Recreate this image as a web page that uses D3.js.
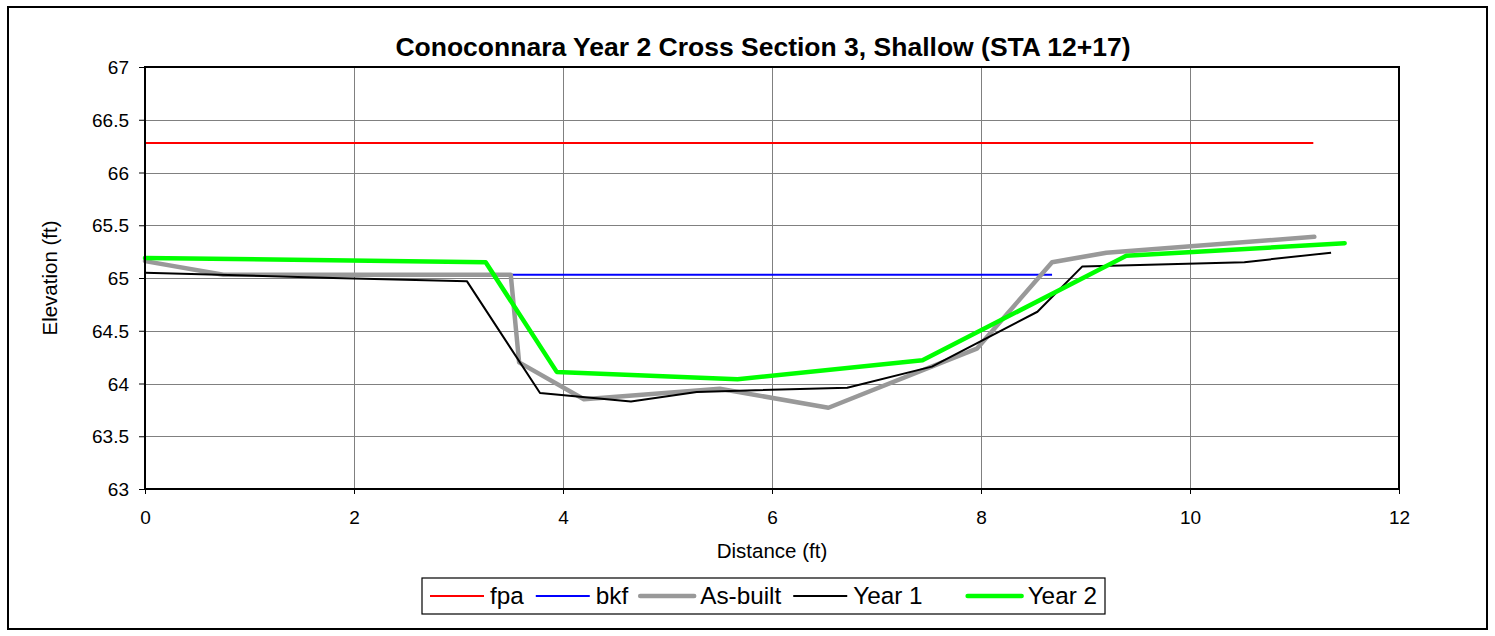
<!DOCTYPE html>
<html>
<head>
<meta charset="utf-8">
<script src="https://cdn.jsdelivr.net/npm/d3@7"></script>
<style>
  html, body { margin: 0; padding: 0; background: #fff; }
  svg { display: block; font-family: Arial, "Liberation Sans", sans-serif; }
</style>
</head>
<body>
<svg id="chart" width="1495" height="636"></svg>
<script>
// Cross-section survey: station distance (ft) vs. elevation (ft)
const title = "Conoconnara Year 2 Cross Section 3, Shallow (STA 12+17)";
const xTicks = [0, 2, 4, 6, 8, 10, 12];
const yTicks = [63, 63.5, 64, 64.5, 65, 65.5, 66, 66.5, 67];

const fpaX = [0, 11.18];
const fpaY = [66.28, 66.28];

const bkfX = [3.5, 8.68];
const bkfY = [65.03, 65.03];

const asBuiltX = [0, 0.75, 3.5, 3.58, 4.2, 5.5, 6.54, 7.96, 8.68, 9.2, 11.19];
const asBuiltY = [65.16, 65.03, 65.03, 64.2, 63.85, 63.95, 63.77, 64.33, 65.15, 65.24, 65.39];

const year1X = [0, 1.8, 3.08, 3.78, 4.65, 5.28, 6.72, 7.53, 8.54, 8.97, 10.52, 11.35];
const year1Y = [65.05, 65.0, 64.97, 63.91, 63.83, 63.92, 63.96, 64.16, 64.68, 65.11, 65.15, 65.24];

const year2X = [0, 3.26, 3.94, 5.67, 7.44, 9.39, 11.48];
const year2Y = [65.19, 65.15, 64.11, 64.04, 64.22, 65.21, 65.33];

const seriesNames = ["fpa", "bkf", "As-built", "Year 1", "Year 2"];
const seriesColors = ["#ff0000", "#0000ff", "#999999", "#000000", "#00ff00"];
const seriesWidths = [2, 2, 4.5, 2, 4.5];

const series = [
  [fpaX, fpaY], [bkfX, bkfY], [asBuiltX, asBuiltY], [year1X, year1Y], [year2X, year2Y]
].map(([xs, ys], i) => ({
  name: seriesNames[i], color: seriesColors[i], width: seriesWidths[i],
  pts: xs.map((x, j) => [x, ys[j]])
}));

const svg = d3.select("#chart");
const W = 1495, H = 636;
const plot = { left: 145, right: 1399, top: 67, bottom: 489 };

const x = d3.scaleLinear().domain([0, 12]).range([plot.left, plot.right]);
const y = d3.scaleLinear().domain([63, 67]).range([plot.bottom, plot.top]);

// outer chart frame
svg.append("rect")
  .attr("x", 8).attr("y", 7).attr("width", W - 16).attr("height", H - 14)
  .attr("fill", "#fff").attr("stroke", "#000").attr("stroke-width", 2);

// gridlines
const grid = svg.append("g");
grid.selectAll(".hg").data(yTicks.slice(1, -1)).join("line")
  .attr("x1", plot.left).attr("x2", plot.right)
  .attr("y1", d => Math.round(y(d)) + 0.5).attr("y2", d => Math.round(y(d)) + 0.5)
  .attr("stroke", "#808080").attr("stroke-width", 1);
grid.selectAll(".vg").data(xTicks.slice(1, -1)).join("line")
  .attr("y1", plot.top).attr("y2", plot.bottom)
  .attr("x1", d => Math.round(x(d)) + 0.5).attr("x2", d => Math.round(x(d)) + 0.5)
  .attr("stroke", "#808080").attr("stroke-width", 1);

// axes
const xAxis = d3.axisBottom(x).tickValues(xTicks).tickSize(5).tickPadding(0).tickFormat(d3.format("d"));
const yAxis = d3.axisLeft(y).tickValues(yTicks).tickSize(6).tickPadding(10).tickFormat(d => String(d));

const gx = svg.append("g").attr("transform", `translate(0,${plot.bottom})`).call(xAxis);
const gy = svg.append("g").attr("transform", `translate(${plot.left},0)`).call(yAxis);
[gx, gy].forEach(g => {
  g.select(".domain").remove();
  g.selectAll(".tick line").attr("stroke", "#000").attr("stroke-width", 1);
  g.selectAll(".tick text").attr("fill", "#000").style("font-size", "19px")
    .style("font-family", "Arial, 'Liberation Sans', sans-serif");
});
gx.selectAll(".tick text").attr("dy", null).attr("y", 35);
gy.selectAll(".tick text").attr("dy", "0.35em");

// series lines
const line = d3.line().x(d => x(d[0])).y(d => y(d[1]));
const lines = svg.append("g").attr("fill", "none").attr("stroke-linejoin", "round");
series.forEach(s => {
  lines.append("path").datum(s.pts)
    .attr("d", line)
    .attr("stroke", s.color)
    .attr("stroke-width", s.width)
    .attr("stroke-linecap", s.width > 3 ? "round" : "butt");
});

// plot area border
svg.append("rect")
  .attr("x", plot.left).attr("y", plot.top)
  .attr("width", plot.right - plot.left).attr("height", plot.bottom - plot.top)
  .attr("fill", "none").attr("stroke", "#000").attr("stroke-width", 2);

// titles
svg.append("text").attr("x", 763).attr("y", 56).attr("text-anchor", "middle")
  .style("font-size", "26.5px").style("font-weight", "bold").text(title);
svg.append("text").attr("x", 772).attr("y", 558).attr("text-anchor", "middle")
  .style("font-size", "20.5px").text("Distance (ft)");
svg.append("text").attr("transform", `translate(57,${(plot.top + plot.bottom) / 2}) rotate(-90)`)
  .attr("text-anchor", "middle").style("font-size", "20.5px").text("Elevation (ft)");

// legend: entries flow left to right; the last entry sits against the right edge
const legendBox = { left: 422, right: 1105, top: 578, bottom: 614 };
const legend = svg.append("g");
legend.append("rect")
  .attr("x", legendBox.left).attr("y", legendBox.top)
  .attr("width", legendBox.right - legendBox.left).attr("height", legendBox.bottom - legendBox.top)
  .attr("fill", "#fff").attr("stroke", "#000").attr("stroke-width", 1.2);
const symLen = 54, symGap = 6, entryGap = 12;
const entries = series.map(s => {
  const g = legend.append("g");
  g.append("line")
    .attr("x1", 0).attr("x2", symLen).attr("y1", 596).attr("y2", 596)
    .attr("stroke", s.color).attr("stroke-width", s.width)
    .attr("stroke-linecap", s.width > 3 ? "round" : "butt");
  const t = g.append("text").attr("x", symLen + symGap).attr("y", 604)
    .style("font-size", "24.3px").text(s.name);
  return { g, w: symLen + symGap + t.node().getComputedTextLength() };
});
let lx = legendBox.left + 8;
entries.forEach((e, i) => {
  const pos = i === entries.length - 1 ? legendBox.right - 8 - e.w : lx;
  e.g.attr("transform", `translate(${pos},0)`);
  lx += e.w + entryGap;
});
</script>
</body>
</html>
